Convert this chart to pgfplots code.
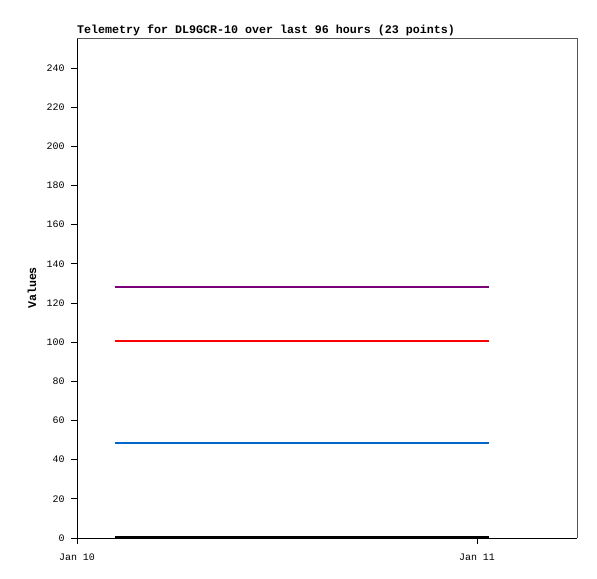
\documentclass[border=0pt]{standalone}
\usepackage{fontspec}
\setmainfont{Liberation Mono}
\usepackage{pgfplots}
\pgfplotsset{compat=1.18}
\definecolor{tpurple}{HTML}{7A0078}
\definecolor{tred}{HTML}{FF0000}
\definecolor{tblue}{HTML}{0066CC}
\definecolor{frame}{HTML}{555555}
\begin{document}
\begin{tikzpicture}[x=1bp,y=1bp]
\useasboundingbox (0,0) rectangle (597,579);
\begin{axis}[
  at={(77bp,41bp)}, anchor=south west,
  scale only axis, width=500bp, height=500bp,
  xmin=0, xmax=30, ymin=0, ymax=255.3,
  axis x line*=bottom, axis y line*=left,
  axis line style={-, black, line width=0.8bp},
  xtick={0,24}, xticklabels={Jan 10,Jan 11},
  ytick={0,20,...,240},
  tick align=outside, major tick length=6bp,
  tick style={black, line width=0.8bp},
  /pgf/number format/assume math mode=true,
  ticklabel style={font=\fontsize{10}{11}\selectfont},
  xticklabel style={yshift=-6bp},
  yticklabel style={xshift=-3bp},
  title={\textbf{Telemetry for DL9GCR-10 over last 96 hours (23 points)}},
  title style={at={(0,1)}, anchor=south west, inner sep=0pt, yshift=-4.5bp, font=\fontsize{11.7}{12}\selectfont},
  ylabel={\textbf{Values}},
  ylabel style={at={(axis description cs:-0.09,0.5)}, anchor=center, font=\fontsize{11.7}{12}\selectfont},
  clip=false,
]
\draw[frame, line width=0.8bp] (rel axis cs:0,1) -- (rel axis cs:1,1) -- (rel axis cs:1,0);
\addplot[tpurple, line width=2bp] coordinates {(2.3,128) (3.32,128) (4.34,128) (5.36,128) (6.38,128) (7.4,128) (8.42,128) (9.44,128) (10.46,128) (11.48,128) (12.5,128) (13.52,128) (14.54,128) (15.56,128) (16.58,128) (17.6,128) (18.62,128) (19.64,128) (20.66,128) (21.68,128) (22.7,128) (23.72,128) (24.74,128)};
\addplot[tred, line width=2bp] coordinates {(2.3,100.4) (3.32,100.4) (4.34,100.4) (5.36,100.4) (6.38,100.4) (7.4,100.4) (8.42,100.4) (9.44,100.4) (10.46,100.4) (11.48,100.4) (12.5,100.4) (13.52,100.4) (14.54,100.4) (15.56,100.4) (16.58,100.4) (17.6,100.4) (18.62,100.4) (19.64,100.4) (20.66,100.4) (21.68,100.4) (22.7,100.4) (23.72,100.4) (24.74,100.4)};
\addplot[tblue, line width=2bp] coordinates {(2.3,48.3) (3.32,48.3) (4.34,48.3) (5.36,48.3) (6.38,48.3) (7.4,48.3) (8.42,48.3) (9.44,48.3) (10.46,48.3) (11.48,48.3) (12.5,48.3) (13.52,48.3) (14.54,48.3) (15.56,48.3) (16.58,48.3) (17.6,48.3) (18.62,48.3) (19.64,48.3) (20.66,48.3) (21.68,48.3) (22.7,48.3) (23.72,48.3) (24.74,48.3)};
\addplot[black, line width=2bp] coordinates {(2.3,0.5) (3.32,0.5) (4.34,0.5) (5.36,0.5) (6.38,0.5) (7.4,0.5) (8.42,0.5) (9.44,0.5) (10.46,0.5) (11.48,0.5) (12.5,0.5) (13.52,0.5) (14.54,0.5) (15.56,0.5) (16.58,0.5) (17.6,0.5) (18.62,0.5) (19.64,0.5) (20.66,0.5) (21.68,0.5) (22.7,0.5) (23.72,0.5) (24.74,0.5)};
\end{axis}
\end{tikzpicture}
\end{document}
